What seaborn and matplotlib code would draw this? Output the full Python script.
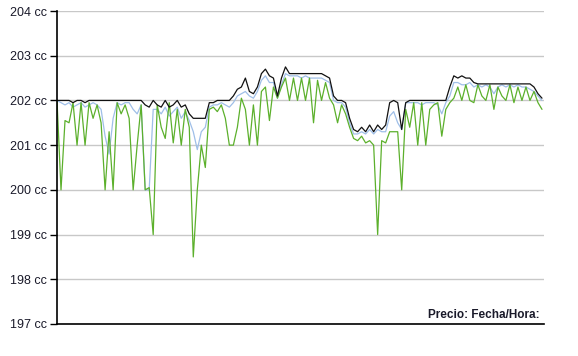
import numpy as np
import pandas as pd
import matplotlib
matplotlib.use("Agg")
import matplotlib.pyplot as plt
import seaborn as sns

# price series (one value every few pixels)
precio_max = [
    202.0, 202.0, 202.0, 202.0, 201.95, 202.0, 202.0, 201.95, 202.0, 202.0,
    202.0, 202.0, 202.0, 202.0, 202.0, 202.0, 202.0, 202.0, 202.0, 202.0,
    202.0, 202.0, 201.9, 201.85, 202.0, 201.9, 201.85, 202.0, 201.85, 201.9,
    202.0, 201.85, 201.9, 201.7, 201.6, 201.6, 201.6, 201.6, 201.95, 201.95,
    202.0, 202.0, 202.0, 202.0, 202.1, 202.25, 202.3, 202.5, 202.2, 202.15,
    202.3, 202.6, 202.7, 202.55, 202.5, 202.1, 202.5, 202.75, 202.6, 202.6,
    202.6, 202.6, 202.6, 202.6, 202.6, 202.6, 202.6, 202.55, 202.5, 202.1,
    202.0, 202.0, 201.95, 201.6, 201.35, 201.3, 201.4, 201.3, 201.45, 201.3,
    201.45, 201.35, 201.45, 201.95, 202.0, 201.95, 201.35, 201.95, 202.0, 202.0,
    202.0, 202.0, 202.0, 202.0, 202.0, 202.0, 202.0, 202.0, 202.3, 202.55,
    202.5, 202.55, 202.5, 202.5, 202.4, 202.37, 202.37, 202.37, 202.37, 202.37,
    202.37, 202.37, 202.37, 202.37, 202.37, 202.37, 202.37, 202.37, 202.37, 202.3,
    202.15, 202.05,
]
precio_medio = [
    202.0, 201.95, 201.9, 201.95, 201.85, 201.9, 201.95, 201.85, 201.9, 201.95,
    201.9, 201.8, 201.2, 200.8, 201.6, 201.95, 201.9, 201.95, 201.95, 201.8,
    201.7, 201.9, 200.0, 200.0, 201.8, 201.8, 201.7, 201.85, 201.65, 201.75,
    201.85, 201.6, 201.75, 201.55, 201.3, 200.9, 201.3, 201.4, 201.85, 201.9,
    201.9, 201.95, 201.9, 201.85, 201.95, 202.1, 202.15, 202.2, 202.1, 202.05,
    202.2, 202.45, 202.55, 202.4, 202.4, 202.05, 202.35, 202.6, 202.55, 202.55,
    202.55, 202.5, 202.55, 202.5, 202.5, 202.5, 202.5, 202.45, 202.4, 202.0,
    201.95, 201.95, 201.85, 201.5, 201.25, 201.25, 201.3, 201.25, 201.35, 201.25,
    201.35, 201.3, 201.3, 201.65, 201.75, 201.5, 201.35, 201.95, 201.95, 201.95,
    201.95, 201.9, 201.95, 201.95, 201.95, 201.9, 201.7, 201.95, 202.1, 202.4,
    202.4, 202.35, 202.35, 202.4, 202.3, 202.35, 202.3, 202.35, 202.3, 202.15,
    202.3, 202.35, 202.3, 202.35, 202.3, 202.35, 202.3, 202.3, 202.25, 202.2,
    202.1, 202.0,
]
precio_min = [
    202.0, 200.0, 201.55, 201.5, 201.95, 201.0, 201.95, 201.0, 201.95, 201.6,
    201.9, 201.5, 200.0, 201.3, 200.0, 201.95, 201.7, 201.9, 201.6, 200.0,
    201.0, 201.9, 200.0, 200.05, 199.0, 201.9, 201.4, 201.15, 201.95, 201.05,
    201.8, 201.0, 201.8, 201.4, 198.5, 200.0, 201.0, 200.5, 201.8, 201.85,
    201.75, 201.9, 201.6, 201.0, 201.0, 201.4, 202.05, 201.8, 201.0, 201.9,
    201.0, 202.2, 202.3, 201.55, 202.3, 202.05, 202.3, 202.5, 202.0, 202.5,
    202.0, 202.5, 202.0, 202.5, 201.5, 202.45, 202.0, 202.4, 202.05, 201.9,
    201.5, 201.9, 201.7, 201.4, 201.15, 201.1, 201.2, 201.05, 201.1, 201.0,
    199.0, 201.1, 201.05, 201.3, 201.3, 201.3, 200.0, 201.8, 201.4, 201.95,
    201.0, 201.95, 201.0, 201.8, 201.9, 201.95, 201.2, 201.8, 201.95, 202.05,
    202.3, 202.0, 202.35, 202.0, 201.95, 202.35, 202.1, 202.0, 202.35, 201.8,
    202.3, 202.1, 202.0, 202.35, 201.95, 202.3, 202.0, 202.3, 202.0, 202.2,
    201.95, 201.8,
]
y_ticks = [197, 198, 199, 200, 201, 202, 203, 204]
y_labels = [f"{v} cc" for v in y_ticks]

df = pd.DataFrame({
    "idx": np.arange(len(precio_max)),
    "max": precio_max,
    "medio": precio_medio,
    "min": precio_min,
})

sns.set_style("white")
plt.rcParams['font.family'] = ['Liberation Sans', 'DejaVu Sans']

fig = plt.figure(figsize=(5.78, 3.56), dpi=100)
ax = fig.add_axes([57 / 578, 32 / 356, 487 / 578, 313 / 356])

sns.lineplot(data=df, x="idx", y="medio", color="#9fbfe8", linewidth=0.9, ax=ax)
sns.lineplot(data=df, x="idx", y="min", color="#5cb02c", linewidth=0.9, ax=ax)
sns.lineplot(data=df, x="idx", y="max", color="#111111", linewidth=0.9, ax=ax)

ax.set_ylim(197, 204)
ax.set_xlim(0, len(precio_max) - 0.5)
ax.set_yticks(y_ticks)
ax.set_yticklabels(y_labels, fontsize=9, color="#1a1a2a")
ax.set_xticks([])
ax.set_xlabel("")
ax.set_ylabel("")
ax.grid(axis="y", color="#c8c8c8", linewidth=1.0)
ax.set_axisbelow(True)
ax.tick_params(axis="y", direction="out", length=5, width=1, color="black", pad=2, left=True)

for side in ["top", "right"]:
    ax.spines[side].set_visible(False)
for side in ["left", "bottom"]:
    ax.spines[side].set_color("black")
    ax.spines[side].set_linewidth(1.2)

ax.text(0.99, 0.008, "Precio: Fecha/Hora:", transform=ax.transAxes, ha="right", va="bottom",
        fontsize=8.5, fontweight="bold", color="#1a1a2a")

fig.savefig("out.png", dpi=100)
